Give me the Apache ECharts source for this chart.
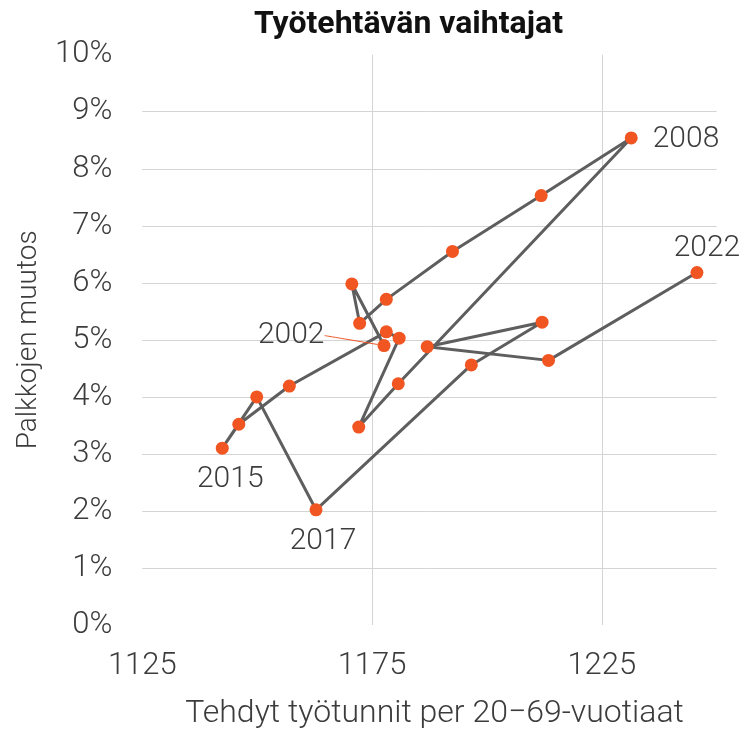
<!DOCTYPE html>
<html>
<head>
<meta charset="utf-8">
<script src="https://cdn.jsdelivr.net/npm/echarts@6/dist/echarts.min.js"></script>
<style>
  html, body { margin: 0; padding: 0; background: #fff; }
  #main { width: 745px; height: 735px; }
</style>
</head>
<body>
<div id="main"></div>
<script>
// vuodet ja arvot (luettu kuvasta)
var years = [2002, 2003, 2004, 2005, 2006, 2007, 2008, 2009, 2010, 2011, 2012,
  2013, 2014, 2015, 2016, 2017, 2018, 2019, 2020, 2021, 2022];
var hours = [1177.6, 1170.6, 1172.3, 1178.1, 1192.5, 1211.8, 1231.4, 1180.7, 1172.1, 1180.9, 1178.1,
  1157.0, 1146.0, 1142.4, 1149.9, 1162.8, 1196.6, 1212.0, 1187.0, 1213.4, 1245.7];
var wageChange = [4.90, 5.98, 5.29, 5.71, 6.55, 7.53, 8.54, 4.23, 3.47, 5.03, 5.14,
  4.19, 3.52, 3.10, 4.00, 2.02, 4.56, 5.31, 4.88, 4.64, 6.18];
var labelledYears = [2002, 2008, 2015, 2017, 2022];
var xTicks = [1125, 1175, 1225];

var FONT = 'Roboto';
var TEXT = '#3c3c3c';
var ORANGE = '#f05522';

// vuosilabelien paikat
var labelPos = {
  2002: { position: 'left', distance: 7, dx: -46, dy: -10 },
  2008: { position: 'right', distance: 15, dx: 0, dy: 2 },
  2015: { position: 'bottom', distance: 6, dx: 8, dy: 4 },
  2017: { position: 'bottom', distance: 6, dx: 7, dy: 4 },
  2022: { position: 'top', distance: 6, dx: 10, dy: 3 }
};

var seriesData = years.map(function (y, i) {
  var item = { value: [hours[i], wageChange[i]], name: String(y) };
  if (labelledYears.indexOf(y) >= 0) {
    var p = labelPos[y];
    item.label = {
      show: true,
      formatter: String(y),
      position: p.position,
      distance: p.distance
    };
    if (y === 2002) {
      // ohut oranssi viiva labelista pisteeseen
      item.labelLine = { show: true, smooth: 0.2, lineStyle: { color: ORANGE, width: 1 } };
    }
  }
  return item;
});

var chart = echarts.init(document.getElementById('main'), null, { renderer: 'canvas' });

var option = {
  backgroundColor: '#fff',
  animation: false,
  title: {
    text: 'Työtehtävän vaihtajat',
    left: 249,
    top: 4,
    textStyle: { fontFamily: FONT, fontWeight: 'bold', fontSize: 32, color: '#111' }
  },
  grid: { left: 142.3, right: 28.3, top: 54.7, bottom: 105.9 },
  xAxis: {
    type: 'value',
    min: 1125,
    max: 1250,
    interval: 50,
    name: 'Tehdyt työtunnit per 20−69-vuotiaat',
    nameLocation: 'middle',
    nameGap: 73,
    nameTextStyle: { fontFamily: FONT, fontWeight: 300, fontSize: 32, color: TEXT, padding: [0, 0, 0, 10] },
    axisLine: { show: false },
    axisTick: { show: false },
    axisLabel: {
      margin: 26,
      fontFamily: FONT, fontWeight: 300, fontSize: 31, color: TEXT,
      showMaxLabel: false,
      formatter: function (v) { return xTicks.indexOf(v) >= 0 ? String(v) : ''; }
    },
    splitLine: { show: true, showMinLine: false, showMaxLine: false, lineStyle: { color: '#d4d4d4', width: 1 } }
  },
  yAxis: {
    type: 'value',
    min: 0,
    max: 10,
    interval: 1,
    name: 'Palkkojen muutos',
    nameLocation: 'middle',
    nameGap: 99,
    nameTextStyle: { fontFamily: FONT, fontWeight: 300, fontSize: 28, color: TEXT },
    axisLine: { show: false },
    axisTick: { show: false },
    axisLabel: {
      margin: 30,
      fontFamily: FONT, fontWeight: 300, fontSize: 31, color: TEXT,
      formatter: '{value}%'
    },
    splitLine: { show: true, showMinLine: false, showMaxLine: false, lineStyle: { color: '#d4d4d4', width: 1 } }
  },
  series: [{
    type: 'line',
    data: seriesData,
    symbol: 'circle',
    symbolSize: 13,
    itemStyle: { color: ORANGE },
    lineStyle: { color: '#5e5e5e', width: 3 },
    label: {
      show: false,
      fontFamily: FONT, fontWeight: 300, fontSize: 30, color: TEXT
    },
    labelLine: { show: false },
    labelLayout: function (params) {
      var p = labelPos[years[params.dataIndex]];
      if (p) {
        return { dx: p.dx, dy: p.dy };
      }
      return {};
    },
    z: 2
  }]
};

chart.setOption(option);
</script>
</body>
</html>
